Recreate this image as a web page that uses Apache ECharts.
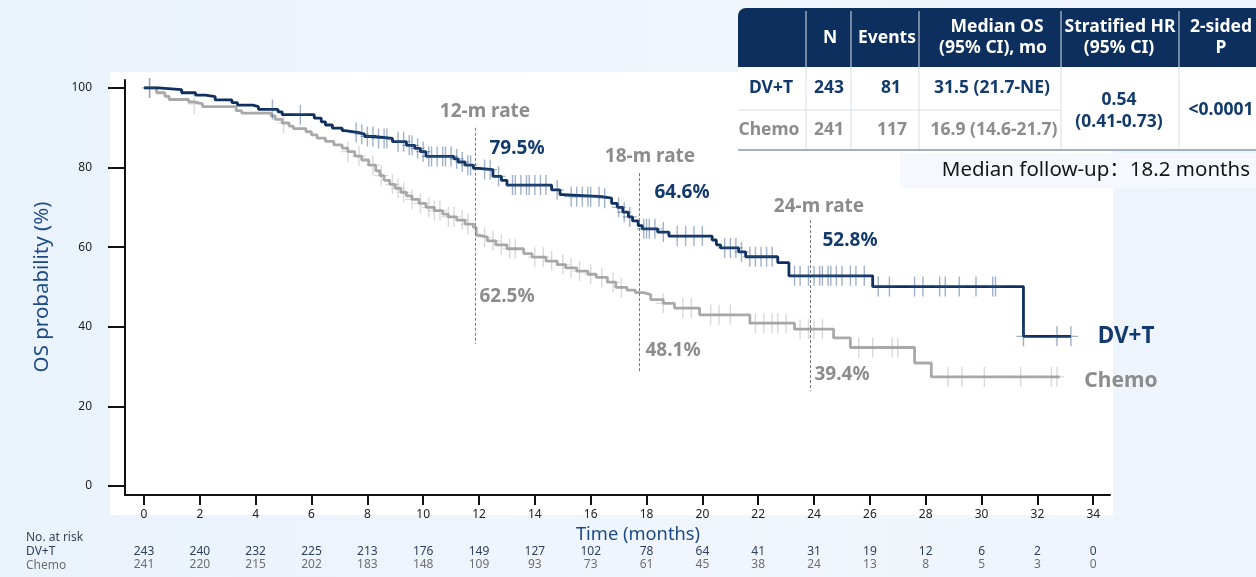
<!DOCTYPE html>
<html>
<head>
<meta charset="utf-8">
<script src="https://cdn.jsdelivr.net/npm/echarts@6/dist/echarts.min.js"></script>
<style>
html,body{margin:0;padding:0;}
body{width:1256px;height:577px;background:linear-gradient(90deg,#eaf2fc 0%,#f1f6fd 60%,#eef4fc 100%);}
#chart{width:1256px;height:577px;}
</style>
</head>
<body>
<div id="chart"></div>
<script>
// ---------- DATA ----------
const xTicks = [0,2,4,6,8,10,12,14,16,18,20,22,24,26,28,30,32,34];
const yTicks = [0,20,40,60,80,100];
const riskDVT   = [243,240,232,225,213,176,149,127,102,78,64,41,31,19,12,6,2,0];
const riskChemo = [241,220,215,202,183,148,109,93,73,61,45,38,24,13,8,5,3,0];

// KM steps: [time (months), survival (%) after the event]
const dvtSteps = [
  [0,100],[0.5,99.6],[1.35,98.8],[1.85,98.2],[2.2,97.8],[2.55,97.0],[3.15,96.3],[3.35,95.7],
  [3.9,95.3],[4.1,94.6],[4.8,94.0],[4.95,93.3],[6.1,92.4],[6.35,91.5],[6.5,90.7],[6.75,89.9],
  [7.1,89.3],[7.2,88.8],[7.7,88.4],[7.9,87.8],[8.3,87.3],[8.9,86.5],[9.4,85.6],[9.7,84.8],
  [9.9,84.0],[10.1,82.8],[11.1,82.2],[11.25,81.4],[11.5,80.6],[11.8,79.8],[12.0,79.5],
  [12.5,77.8],[12.8,76.8],[13.0,75.6],[14.6,74.4],[14.9,73.2],[15.0,72.7],[16.4,72.3],
  [16.75,71.0],[16.95,70.0],[17.15,68.8],[17.35,67.6],[17.5,66.6],[17.7,65.4],[17.85,64.6],
  [18.4,63.8],[18.8,62.8],[20.35,61.8],[20.5,60.6],[20.65,59.8],[21.3,58.8],[21.55,57.6],
  [22.7,56.1],[23.1,52.8],[26.1,50.1],[31.5,37.6],[33.2,37.6]
];
const chemoSteps = [
  [0,100],[0.45,98.8],[0.75,97.9],[0.9,97.1],[1.6,96.5],[1.8,96.0],[2.1,95.3],[3.3,94.3],
  [3.5,93.7],[4.55,93.0],[4.7,92.1],[4.95,91.2],[5.2,90.4],[5.35,89.8],[5.8,89.0],[6.0,88.2],
  [6.2,87.4],[6.5,86.6],[6.8,85.7],[7.1,84.9],[7.3,84.0],[7.55,82.9],[7.8,81.9],[8.05,80.6],
  [8.3,79.2],[8.45,78.0],[8.6,76.8],[8.8,75.8],[9.0,74.8],[9.2,73.8],[9.4,72.9],[9.6,72.0],
  [9.85,71.0],[10.1,70.0],[10.4,69.2],[10.7,68.3],[10.9,67.6],[11.2,66.8],[11.5,65.8],
  [11.8,65.0],[11.9,63.0],[12.0,62.5],[12.3,61.6],[12.6,60.6],[13.0,59.6],[13.6,58.4],
  [13.9,57.5],[14.4,56.5],[14.8,55.6],[15.1,54.8],[15.5,54.0],[15.9,53.2],[16.2,52.4],
  [16.6,51.2],[16.9,49.9],[17.3,49.2],[17.6,48.6],[17.9,48.1],[18.15,46.8],[18.6,45.9],
  [19.0,44.7],[19.9,43.0],[21.7,40.9],[23.3,39.4],[24.7,37.2],[25.3,34.8],[27.6,30.9],
  [28.2,27.4],[32.8,27.4]
];
const dvtCensor = [0.2,4.6,5.6,7.6,7.8,8.0,8.2,8.4,8.6,8.7,9.1,9.3,9.5,9.6,9.8,10.0,10.2,10.3,
  10.5,10.7,10.8,11.0,11.2,11.4,11.6,11.7,12.2,12.4,12.7,13.2,13.3,13.5,13.7,13.8,14.0,14.2,
  14.4,14.8,15.3,15.5,15.7,15.9,16.0,16.3,16.5,17.0,17.2,17.4,17.9,18.0,18.1,18.3,18.6,19.1,
  19.4,19.7,20.0,20.8,21.0,21.2,21.4,21.7,21.9,22.1,22.3,22.5,23.3,23.5,23.8,24.0,24.2,24.3,
  24.5,24.6,24.8,25.0,25.3,25.5,25.8,26.3,26.7,27.6,27.9,28.5,28.7,29.2,29.8,30.4,30.5,31.5,
  32.7,33.2];
const chemoCensor = [0.2,1.8,5.0,7.3,7.7,8.2,8.5,8.9,9.1,9.3,9.6,9.9,10.2,10.4,10.6,10.9,11.1,
  11.4,11.6,12.2,12.5,12.8,13.1,13.3,14.0,14.3,14.6,15.0,15.3,15.6,16.0,16.4,16.8,17.1,18.6,
  19.3,19.6,20.3,20.6,21.0,21.9,22.2,22.5,22.7,23.0,23.5,23.8,24.0,24.3,25.6,26.1,26.8,27.0,
  28.8,29.3,30.1,31.4,32.5,32.7];

// landmark reference lines as drawn in the picture: [month, top %, bottom %]
const landmarks = [[11.85,90,35.7],[17.75,78.6,28.4],[23.85,66.8,23.9]];

// ---------- STYLE ----------
const NAVY = '#0f305f';
const NAVY_T = '#133a6d';
const GRAY_L = '#a9a9a9';
const GRAY_T = '#8c8c8c';
const FONT = '"Noto Sans","Open Sans",sans-serif';

function survAt(steps, t) {
  let v = steps[0][1];
  for (const [x, y] of steps) { if (x <= t) v = y; else break; }
  return v;
}
const censorSym = 'path://M6.3,0H7.7V20H6.3Z M0,9.4H14V10.6H0Z';

const chart = echarts.init(document.getElementById('chart'), null, {renderer: 'canvas'});

const X_MIN = -0.68, X_MAX = 34.6, Y_MIN = -2.26, Y_MAX = 102;

function riskAxis(arr, offset, color) {
  return {
    type: 'value', min: X_MIN, max: X_MAX, position: 'bottom', offset: offset,
    axisLine: {show: false}, axisTick: {show: false}, splitLine: {show: false},
    axisLabel: {
      customValues: xTicks, margin: 0, fontSize: 12, color: color, fontFamily: FONT,
      formatter: v => { const i = xTicks.indexOf(Math.round(v)); return i >= 0 ? String(arr[i]) : ''; }
    }
  };
}

function txt(x, y, s, opt) {
  return {type: 'text', x: x, y: y, style: Object.assign({
    text: s, align: 'center', verticalAlign: 'middle', fontFamily: FONT
  }, opt || {})};
}

const A = 19; // annotation font size
const graphics = [
  // white plot panel
  {type: 'rect', shape: {x: 110, y: 72, width: 1003, height: 443}, style: {fill: '#ffffff'}, z: -100},
  // y axis title
  {type: 'text', x: 42, y: 287, rotation: Math.PI / 2,
   style: {text: 'OS probability (%)', align: 'center', verticalAlign: 'middle', fontSize: 20.5, fill: '#1d4a85', fontFamily: FONT}},
  // x axis title
  txt(638, 535, 'Time (months)', {fontSize: 18.3, fill: '#1d4a85'}),
  // risk table labels
  txt(26, 538, 'No. at risk', {align: 'left', fontSize: 12, fill: '#3b4453'}),
  txt(26, 552, 'DV+T', {align: 'left', fontSize: 12, fill: '#2d3f5c'}),
  txt(26, 566, 'Chemo', {align: 'left', fontSize: 12, fill: '#6f6f6f'}),
  // landmark annotations
  txt(485, 112, '12-m rate', {fontSize: A, fontWeight: 'bold', fill: GRAY_T}),
  txt(517, 149, '79.5%', {fontSize: A, fontWeight: 'bold', fill: NAVY_T}),
  txt(507, 297, '62.5%', {fontSize: A, fontWeight: 'bold', fill: GRAY_T}),
  txt(650, 157, '18-m rate', {fontSize: A, fontWeight: 'bold', fill: GRAY_T}),
  txt(682, 193, '64.6%', {fontSize: A, fontWeight: 'bold', fill: NAVY_T}),
  txt(673, 351, '48.1%', {fontSize: A, fontWeight: 'bold', fill: GRAY_T}),
  txt(819, 207, '24-m rate', {fontSize: A, fontWeight: 'bold', fill: GRAY_T}),
  txt(850, 241, '52.8%', {fontSize: A, fontWeight: 'bold', fill: NAVY_T}),
  txt(842, 375, '39.4%', {fontSize: A, fontWeight: 'bold', fill: GRAY_T}),
  // curve labels
  txt(1126, 337, 'DV+T', {fontSize: 22.5, fontWeight: 'bold', fill: NAVY_T}),
  txt(1121, 381, 'Chemo', {fontSize: 21, fontWeight: 'bold', fill: GRAY_T}),
  // ---- summary table ----
  {type: 'rect', shape: {x: 738, y: 8, width: 520, height: 59, r: [8, 0, 0, 0]}, style: {fill: '#0c2f5e'}},
  {type: 'rect', shape: {x: 738, y: 67, width: 520, height: 83}, style: {fill: '#ffffff'}},
  {type: 'rect', shape: {x: 900, y: 153, width: 356, height: 35}, style: {fill: '#f5f9fe'}}
];
[806, 851, 919, 1061, 1179].forEach(x => {
  graphics.push({type: 'line', shape: {x1: x, y1: 11, x2: x, y2: 67}, style: {stroke: 'rgba(255,255,255,0.85)', lineWidth: 1}});
  graphics.push({type: 'line', shape: {x1: x, y1: 67, x2: x, y2: 150}, style: {stroke: '#d8dee8', lineWidth: 1}});
});
graphics.push({type: 'line', shape: {x1: 738, y1: 110, x2: 1061, y2: 110}, style: {stroke: '#d8dee8', lineWidth: 1}});
graphics.push({type: 'line', shape: {x1: 738, y1: 150, x2: 1256, y2: 150}, style: {stroke: '#8797b2', lineWidth: 1.5}});
const H = {fontSize: 17.5, fontWeight: 'bold', fill: '#ffffff'};
const R1 = {fontSize: 17.5, fontWeight: 'bold', fill: NAVY_T};
const R2 = {fontSize: 17.5, fontWeight: 'bold', fill: GRAY_T};
graphics.push(
  txt(830, 38, 'N', H), txt(887, 38, 'Events', H),
  txt(997, 27, 'Median OS', H), txt(993, 48, '(95% CI), mo', H),
  txt(1120, 27, 'Stratified HR', H), txt(1119, 48, '(95% CI)', H),
  txt(1221, 27, '2-sided', H), txt(1221, 48, 'P', H),
  txt(771, 88, 'DV+T', R1), txt(829, 88, '243', R1), txt(891, 88, '81', R1), txt(992, 88, '31.5 (21.7-NE)', R1),
  txt(769, 130, 'Chemo', R2), txt(829, 130, '241', R2), txt(892, 130, '117', R2), txt(994, 130, '16.9 (14.6-21.7)', R2),
  txt(1119, 100, '0.54', R1), txt(1119, 122, '(0.41-0.73)', R1),
  txt(1221, 110, '<0.0001', R1),
  txt(1250, 170, 'Median follow-up：18.2 months', {align: 'right', fontSize: 20.5, fill: '#151515', fontFamily: '"Noto Sans","Noto Sans CJK SC",sans-serif'})
);

const option = {
  animation: false,
  backgroundColor: 'transparent',
  textStyle: {fontFamily: FONT},
  grid: {left: 125, right: 146, top: 80, bottom: 82},
  xAxis: [
    {
      type: 'value', min: X_MIN, max: X_MAX, position: 'bottom',
      axisLine: {show: true, onZero: false, lineStyle: {color: '#111', width: 2}},
      axisTick: {show: true, customValues: xTicks, length: 10, lineStyle: {color: '#111', width: 2}},
      axisLabel: {customValues: xTicks, margin: 14, fontSize: 12, color: '#222', fontFamily: FONT},
      splitLine: {show: false}
    },
    riskAxis(riskDVT, 51, '#2d3f5c'),
    riskAxis(riskChemo, 64, '#6f6f6f')
  ],
  yAxis: {
    type: 'value', min: Y_MIN, max: Y_MAX,
    axisLine: {show: true, onZero: false, lineStyle: {color: '#111', width: 2}},
    axisTick: {show: true, customValues: yTicks, length: 17, lineStyle: {color: '#111', width: 2}},
    axisLabel: {customValues: yTicks, margin: 33, fontSize: 12, color: '#222', fontFamily: FONT},
    splitLine: {show: false}
  },
  graphic: graphics,
  series: [
    {
      name: 'Chemo', type: 'line', step: 'end', data: chemoSteps, symbol: 'none', z: 3,
      lineStyle: {color: GRAY_L, width: 2.8}, silent: true
    },
    {
      name: 'Chemo censor', type: 'scatter', z: 3, silent: true,
      data: chemoCensor.map(t => [t, survAt(chemoSteps, t)]),
      symbol: censorSym, symbolSize: [14, 20],
      itemStyle: {color: 'rgba(160,160,160,0.5)'}
    },
    {
      name: 'DV+T', type: 'line', step: 'end', data: dvtSteps, symbol: 'none', z: 5,
      lineStyle: {color: NAVY, width: 2.8}, silent: true,
      markLine: {
        silent: true, symbol: ['none', 'none'], label: {show: false},
        lineStyle: {color: '#777', type: [3, 2], width: 1},
        data: landmarks.map(l => [{coord: [l[0], l[1]]}, {coord: [l[0], l[2]]}])
      }
    },
    {
      name: 'DV+T censor', type: 'scatter', z: 5, silent: true,
      data: dvtCensor.map(t => [t, survAt(dvtSteps, t)]),
      symbol: censorSym, symbolSize: [14, 20],
      itemStyle: {color: 'rgba(40,80,130,0.55)'}
    }
  ]
};
chart.setOption(option);
</script>
</body>
</html>
